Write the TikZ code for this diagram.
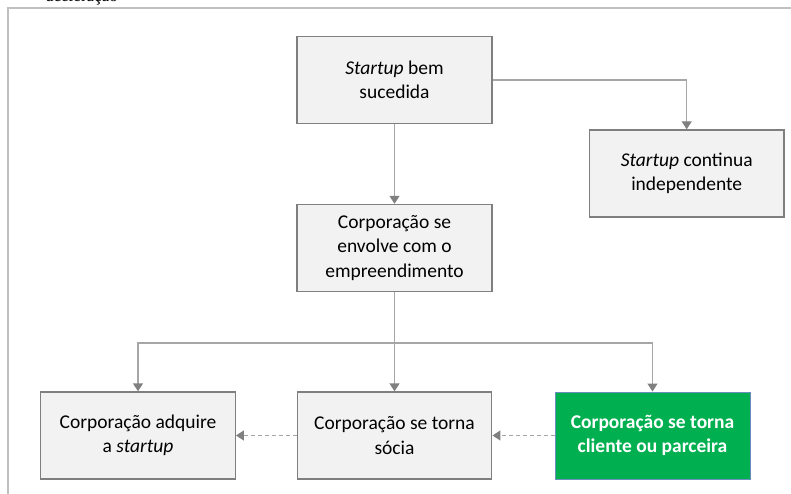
\documentclass[tikz,border=0pt]{standalone}
\usepackage{fontspec}
\setmainfont{Carlito}
\newfontfamily\capfont{Liberation Serif}
\usetikzlibrary{arrows.meta,calc}
\definecolor{boxfill}{HTML}{F2F2F2}
\definecolor{boxline}{HTML}{7F7F7F}
\definecolor{linkline}{HTML}{A6A6A6}
\definecolor{tipcol}{HTML}{808080}
\definecolor{framecol}{HTML}{C0C0C0}
\definecolor{okgreen}{HTML}{00B050}
\definecolor{okline}{HTML}{6C8EBF}
\tikzset{
  x=1pt, y=-1pt,
  stepbox/.style={draw=boxline, line width=1.4pt, fill=boxfill,
    minimum width=195pt, minimum height=87pt, align=center,
    inner sep=0pt, font=\fontsize{19.5}{24.5}\selectfont},
  greenbox/.style={stepbox, draw=okline, line width=1pt, fill=okgreen,
    text=white, font=\fontsize{19.5}{24.5}\selectfont\bfseries},
  link/.style={draw=linkline, line width=1.4pt,
    -{Triangle[length=8pt,width=10pt,color=tipcol]}},
  plainlink/.style={draw=linkline, line width=1.4pt},
  dashlink/.style={link, dashed, dash pattern=on 4pt off 3pt, line width=1.2pt}
}
\begin{document}
\begin{tikzpicture}
\useasboundingbox (0,0) rectangle (791,494);
\begin{scope}
\clip (0,0) rectangle (791,494);
% caption line cut at the top edge
\node[anchor=base east, inner sep=0pt, font=\capfont\fontsize{17}{20}\selectfont] (cap) at (118,2) {aceleração};
% frame
\draw[framecol, line width=2pt] (8,494) -- (8,8) -- (791,8);
\end{scope}

\node[stepbox] (top) at (394.5,80) {\textit{Startup} bem\\sucedida};
\node[stepbox, minimum width=194.5pt] (ind) at (686.7,173.5) {\textit{Startup} continua\\independente};
\node[stepbox] (mid) at (394.5,248) {Corporação se\\envolve com o\\empreendimento};
\node[stepbox, minimum width=194.5pt] (acq) at (138,435.5) {Corporação adquire\\a \textit{startup}};
\node[stepbox, minimum width=194.5pt] (soc) at (394.5,435.5) {Corporação se torna\\sócia};
\node[greenbox] (cli) at (652.5,435.5) {Corporação se torna\\cliente ou parceira};

\coordinate (bus) at (394.5,343);

\draw[link] (top.east) -| (ind.north);
\draw[link] (top.south) -- (mid.north);
\draw[plainlink] (mid.south) -- (bus);
\draw[link] (bus) -| (acq.north);
\draw[link] (bus) -- (soc.north);
\draw[link] (bus) -| (cli.north);
\draw[dashlink] (cli.west) -- (soc.east);
\draw[dashlink] (soc.west) -- (acq.east);
\end{tikzpicture}
\end{document}
